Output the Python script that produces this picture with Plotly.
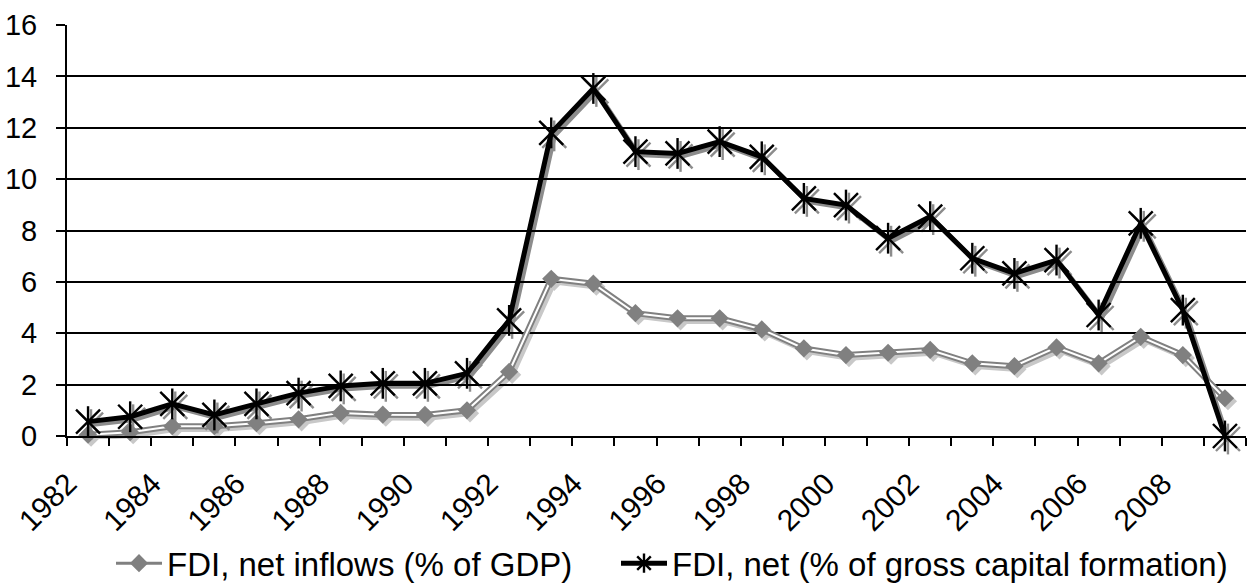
import plotly.graph_objects as go

years = list(range(1982, 2010))
fdi_gdp = [0.05, 0.15, 0.38, 0.38, 0.5, 0.65, 0.9, 0.83, 0.82, 1.0, 2.5, 6.12, 5.93, 4.78, 4.58, 4.58, 4.15, 3.41, 3.15, 3.24, 3.35, 2.83, 2.72, 3.45, 2.83, 3.86, 3.15, 1.47]
fdi_gcf = [0.56, 0.75, 1.25, 0.82, 1.25, 1.67, 1.95, 2.05, 2.05, 2.44, 4.5, 11.8, 13.53, 11.07, 11.0, 11.46, 10.87, 9.25, 8.99, 7.7, 8.54, 6.92, 6.33, 6.85, 4.71, 8.28, 4.9, 0.0]
label_years = years[::2]
y_ticks = list(range(0, 17, 2))
names = ["FDI, net inflows (% of GDP)", "FDI, net (% of gross capital formation)"]

W, H = 1249, 583
ML, MR, MT, MB = 67, 0, 25, 144
PW, PH = W - ML - MR, H - MT - MB
SH = 3  # shadow offset in px
dx, dy = SH / PW, SH / PH

FONT = "Liberation Sans, Arial, sans-serif"
GRAY = "#808080"
SHADOW = "#8c8c8c"
LIGHT_SHADOW = "#c8c8c8"

fig = go.Figure()

STAR_X, STAR_V = 24, 22

# shadow traces: subplot x/y (hidden), shifted right/down
fig.add_trace(go.Scatter(x=years, y=fdi_gdp, mode="lines+markers", xaxis="x", yaxis="y",
                         line=dict(color=LIGHT_SHADOW, width=5.5),
                         marker=dict(symbol="diamond", size=14, color=LIGHT_SHADOW),
                         showlegend=False, hoverinfo="skip", cliponaxis=False))
fig.add_trace(go.Scatter(x=years, y=fdi_gcf, mode="lines", xaxis="x", yaxis="y",
                         line=dict(color=SHADOW, width=5),
                         showlegend=False, hoverinfo="skip", cliponaxis=False))
for sym, sz in [("x-thin-open", STAR_X), ("line-ns-open", STAR_V)]:
    fig.add_trace(go.Scatter(x=years, y=fdi_gcf, mode="markers", xaxis="x", yaxis="y",
                             marker=dict(symbol=sym, size=sz, color=SHADOW, line=dict(color=SHADOW, width=2.4)),
                             showlegend=False, hoverinfo="skip", cliponaxis=False))

# gray series on visible axes x2/y2: compound line (gray with white core)
fig.add_trace(go.Scatter(x=years, y=fdi_gdp, mode="lines", xaxis="x2", yaxis="y2",
                         line=dict(color=GRAY, width=6), showlegend=False, cliponaxis=False))
fig.add_trace(go.Scatter(x=years, y=fdi_gdp, mode="lines", xaxis="x2", yaxis="y2",
                         line=dict(color="white", width=2), showlegend=False, cliponaxis=False,
                         hoverinfo="skip"))
fig.add_trace(go.Scatter(x=years, y=fdi_gdp, mode="markers", name=names[0], xaxis="x2", yaxis="y2",
                         marker=dict(symbol="diamond", size=14, color=GRAY),
                         showlegend=False, cliponaxis=False))

# black series
fig.add_trace(go.Scatter(x=years, y=fdi_gcf, mode="lines", name=names[1], xaxis="x2", yaxis="y2",
                         line=dict(color="black", width=5), showlegend=False, cliponaxis=False))
for sym, sz in [("x-thin-open", STAR_X), ("line-ns-open", STAR_V)]:
    fig.add_trace(go.Scatter(x=years, y=fdi_gcf, mode="markers", xaxis="x2", yaxis="y2",
                             marker=dict(symbol=sym, size=sz, color="black", line=dict(color="black", width=2.4)),
                             showlegend=False, hoverinfo="skip", cliponaxis=False))

# legend entries (two legends, placed independently)
fig.add_trace(go.Scatter(x=[None], y=[None], mode="lines+markers", name=names[0], xaxis="x2", yaxis="y2",
                         line=dict(color=GRAY, width=3), legend="legend",
                         marker=dict(symbol="diamond", size=14, color=GRAY)))
fig.add_trace(go.Scatter(x=[None], y=[None], mode="lines+markers", name=names[1], xaxis="x2", yaxis="y2",
                         line=dict(color="black", width=5), legend="legend2",
                         marker=dict(symbol="asterisk-open", size=22, color="black",
                                     line=dict(color="black", width=2.4))))

xr = [years[0] - 0.5, years[-1] + 0.5]
leg_common = dict(orientation="h", xanchor="left", y=-0.30, yanchor="middle",
                  font=dict(size=33), bgcolor="rgba(0,0,0,0)", itemwidth=46)
fig.update_layout(
    width=W, height=H,
    margin=dict(l=ML, r=MR, t=MT, b=MB, pad=0, autoexpand=False),
    paper_bgcolor="white", plot_bgcolor="rgba(0,0,0,0)",
    font=dict(family=FONT, size=28, color="black"),
    xaxis=dict(domain=[dx, 1], range=xr, visible=False, anchor="y", automargin=False),
    yaxis=dict(domain=[0, 1 - dy], range=[0, 16], visible=False, anchor="x", automargin=False),
    xaxis2=dict(domain=[0, 1 - dx], range=xr, anchor="y2", automargin=False,
                tickvals=label_years, ticktext=[str(v) for v in label_years],
                tickangle=-45, ticks="", showgrid=False, zeroline=False,
                showline=True, linecolor="black", linewidth=2,
                tickfont=dict(size=30), ticklabelstandoff=16, ticklabelshift=-20,
                minor=dict(tick0=years[0] - 0.5, dtick=1, ticks="outside", ticklen=8,
                           tickwidth=2, tickcolor="black", showgrid=False)),
    yaxis2=dict(domain=[dy, 1], range=[0, 16], anchor="x2", automargin=False,
                tickvals=y_ticks, ticks="outside", ticklen=9,
                tickwidth=2, tickcolor="black", showgrid=True, gridcolor="black", gridwidth=2,
                zeroline=False, showline=True, linecolor="black", linewidth=2,
                tickfont=dict(size=29), ticklabelstandoff=13),
    legend=dict(x=(111 - ML) / PW, **leg_common),
    legend2=dict(x=(616 - ML) / PW, **leg_common),
    showlegend=True,
)

fig.write_html("out.html", post_script="document.body.style.margin='0';",
               config={"displayModeBar": False})
